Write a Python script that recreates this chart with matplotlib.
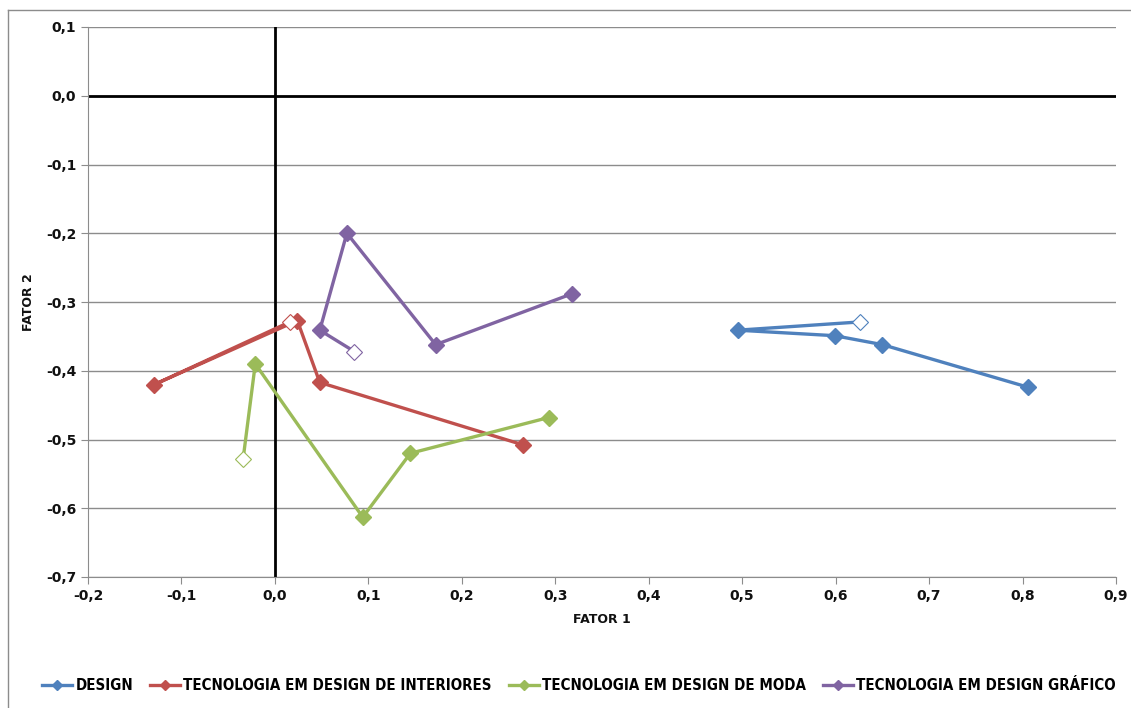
import matplotlib
matplotlib.use("Agg")
import matplotlib.pyplot as plt
from matplotlib import font_manager
from matplotlib.lines import Line2D
from matplotlib.ticker import FuncFormatter, MultipleLocator

# fonte estreita parecida com Calibri, se existir
names = {f.name for f in font_manager.fontManager.ttflist}
fam = 'Liberation Sans Narrow' if 'Liberation Sans Narrow' in names else 'DejaVu Sans'
plt.rcParams['font.family'] = [fam, 'DejaVu Sans']

# dados (primeiro ponto de cada serie = marcador vazio)
design_x = [0.626, 0.495, 0.599, 0.650, 0.806]
design_y = [-0.329, -0.341, -0.349, -0.362, -0.424]
interiores_x = [0.016, -0.129, 0.024, 0.048, 0.266]
interiores_y = [-0.329, -0.420, -0.327, -0.417, -0.508]
moda_x = [-0.034, -0.021, 0.094, 0.145, 0.293]
moda_y = [-0.528, -0.390, -0.613, -0.520, -0.468]
grafico_x = [0.085, 0.048, 0.077, 0.172, 0.318]
grafico_y = [-0.372, -0.341, -0.200, -0.362, -0.288]

labels = ['DESIGN', 'TECNOLOGIA EM DESIGN DE INTERIORES',
          'TECNOLOGIA EM DESIGN DE MODA', 'TECNOLOGIA EM DESIGN GRÁFICO']
colors = ['#4F81BD', '#C0504D', '#9BBB59', '#8064A2']
series = [(design_x, design_y), (interiores_x, interiores_y),
          (moda_x, moda_y), (grafico_x, grafico_y)]

fig = plt.figure(figsize=(11.31, 7.08), dpi=100)
ax = fig.add_axes([88/1131, 1-577/708, (1116-88)/1131, (577-27)/708])

ax.axhline(0, color='black', lw=2, zorder=2)
ax.axvline(0, color='black', lw=2, zorder=2)

handles = []
for (xs, ys), c, lab in zip(series, colors, labels):
    ax.plot(xs, ys, color=c, lw=2.4, zorder=3)
    ax.plot(xs[1:], ys[1:], ls='none', marker='D', ms=8, color=c, zorder=4)
    ax.plot(xs[:1], ys[:1], ls='none', marker='D', ms=8, mfc='white', mec=c, mew=0.8, zorder=4)
    handles.append(Line2D([], [], color=c, lw=2.4, marker='D', ms=5))

ax.set_xlim(-0.2, 0.9)
ax.set_ylim(-0.7, 0.1)
ax.xaxis.set_major_locator(MultipleLocator(0.1))
ax.yaxis.set_major_locator(MultipleLocator(0.1))
fmt = FuncFormatter(lambda v, p: ('%.1f' % (round(v, 1) + 0.0)).replace('.', ','))
ax.xaxis.set_major_formatter(fmt)
ax.yaxis.set_major_formatter(fmt)

ax.grid(axis='y', color='#8c8c8c', lw=1, zorder=1)
for s in ['top', 'right']:
    ax.spines[s].set_visible(False)
for s in ['left', 'bottom']:
    ax.spines[s].set_color('#8c8c8c')
ax.tick_params(colors='#8c8c8c', length=5, labelcolor='#111111')
for t in ax.get_xticklabels() + ax.get_yticklabels():
    t.set_fontsize(10)
    t.set_fontweight('bold')

ax.set_xlabel('FATOR 1', fontsize=9, fontweight='bold', color='#111111', labelpad=7)
ax.set_ylabel('FATOR 2', fontsize=9, fontweight='bold', color='#111111', labelpad=8)

fig.legend(handles, labels, loc='center', bbox_to_anchor=(0.512, 0.032), ncol=4,
           frameon=False, prop={'weight': 'bold', 'size': 10.8, 'stretch': 'condensed'},
           handlelength=2.0, handletextpad=0.2, columnspacing=1.15)

# moldura do grafico (so aparecem as bordas de cima e da esquerda)
fig.add_artist(Line2D([8/1131, 8/1131], [0, 1-10/708], color='#8c8c8c', lw=1))
fig.add_artist(Line2D([8/1131, 1], [1-10/708, 1-10/708], color='#8c8c8c', lw=1))

fig.savefig('out.png', dpi=100)
